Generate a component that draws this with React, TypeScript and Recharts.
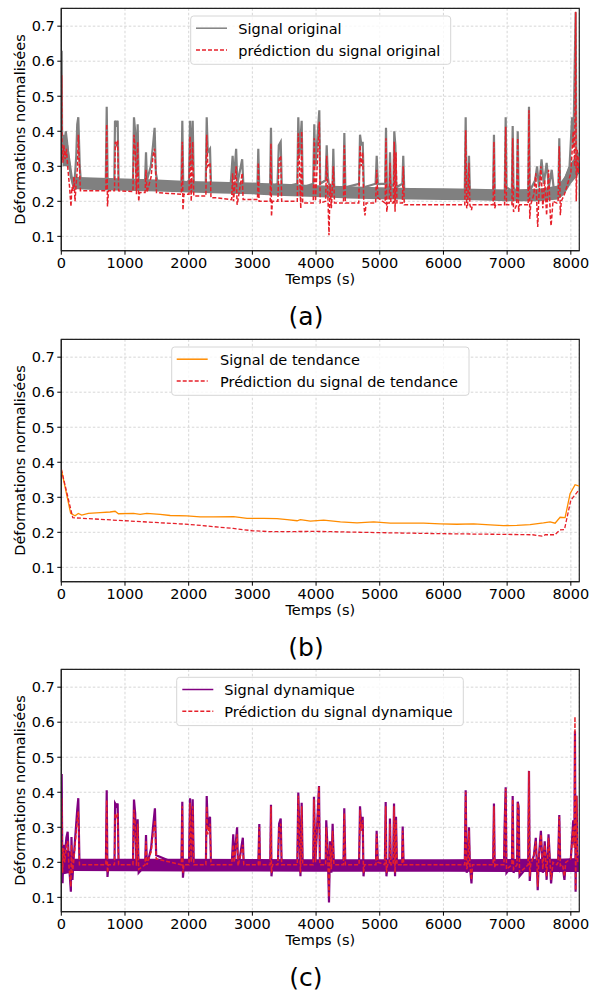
import React from 'react';
import { ComposedChart, Line, Area, XAxis, YAxis, CartesianGrid, ReferenceArea } from 'recharts';

type P = [number, number];
type B = [number, number, number];

const X_TICKS = [0, 1000, 2000, 3000, 4000, 5000, 6000, 7000, 8000];
const Y_TICKS = [0.1, 0.2, 0.3, 0.4, 0.5, 0.6, 0.7];
const X_MAX = 8133;
const Y_MIN = 0.059;
const Y_MAX = 0.751;

// ---------- Panel (a) ----------
const bandA: B[] = [[20,0.3,0.38],[110,0.3,0.36],[180,0.235,0.27],[500,0.232,0.268],[1000,0.23,0.265],[1500,0.228,0.262],[2000,0.225,0.258],[2500,0.222,0.256],[3000,0.22,0.253],[3500,0.215,0.25],[4000,0.212,0.246],[4500,0.208,0.243],[5000,0.206,0.24],[5500,0.205,0.238],[6000,0.204,0.237],[6500,0.203,0.236],[7000,0.2,0.234],[7500,0.2,0.236],[7800,0.205,0.245],[7900,0.22,0.27],[8000,0.25,0.31],[8133,0.28,0.34]];

const origA: P[] = [[0,0.35],[6,0.63],[12,0.4],[20,0.33],[35,0.39],[50,0.36],[70,0.4],[90,0.37],[110,0.33],[150,0.27],[180,0.25],[210,0.26],[235,0.33],[250,0.42],[267,0.44],[290,0.3],[310,0.25],[698,0.25],[713,0.47],[728,0.25],[832,0.25],[843,0.43],[865,0.42],[885,0.43],[900,0.25],[1125,0.25],[1141,0.44],[1160,0.4],[1178,0.27],[1199,0.42],[1215,0.26],[1315,0.26],[1330,0.34],[1345,0.26],[1405,0.3],[1440,0.36],[1465,0.41],[1485,0.28],[1515,0.25],[1885,0.25],[1900,0.43],[1915,0.24],[2005,0.26],[2021,0.43],[2040,0.3],[2063,0.43],[2080,0.25],[2268,0.25],[2283,0.44],[2300,0.34],[2335,0.35],[2352,0.24],[2660,0.25],[2690,0.33],[2710,0.26],[2745,0.35],[2765,0.25],[2840,0.32],[2858,0.25],[3080,0.25],[3093,0.35],[3108,0.24],[3278,0.24],[3292,0.41],[3306,0.24],[3395,0.25],[3415,0.36],[3445,0.37],[3462,0.24],[3705,0.25],[3721,0.44],[3740,0.33],[3774,0.43],[3790,0.24],[3955,0.25],[3972,0.42],[3990,0.3],[4051,0.46],[4065,0.25],[4150,0.26],[4167,0.36],[4185,0.27],[4200,0.25],[4258,0.24],[4271,0.35],[4285,0.24],[4430,0.24],[4444,0.395],[4460,0.24],[4675,0.25],[4690,0.39],[4712,0.36],[4732,0.37],[4750,0.24],[4935,0.25],[4952,0.33],[4970,0.25],[5085,0.25],[5098,0.41],[5112,0.24],[5150,0.24],[5161,0.34],[5175,0.24],[5215,0.25],[5228,0.4],[5245,0.36],[5260,0.24],[5355,0.25],[5369,0.33],[5385,0.23],[6335,0.23],[6349,0.44],[6362,0.23],[6388,0.23],[6401,0.33],[6415,0.23],[6780,0.23],[6793,0.39],[6806,0.22],[6963,0.23],[6977,0.44],[6991,0.24],[7074,0.23],[7087,0.415],[7100,0.24],[7152,0.22],[7166,0.4],[7180,0.23],[7330,0.22],[7343,0.47],[7356,0.23],[7440,0.26],[7470,0.3],[7500,0.24],[7540,0.32],[7575,0.25],[7620,0.31],[7655,0.24],[7700,0.29],[7735,0.23],[7805,0.23],[7819,0.38],[7833,0.23],[7900,0.26],[7980,0.3],[8020,0.44],[8040,0.36],[8062,0.6],[8076,0.74],[8088,0.3],[8105,0.34],[8120,0.31],[8133,0.33]];

const predA: P[] = [[0,0.38],[6,0.56],[12,0.36],[25,0.31],[40,0.36],[60,0.32],[80,0.35],[100,0.3],[130,0.24],[152,0.185],[165,0.24],[185,0.23],[200,0.27],[215,0.2],[230,0.24],[255,0.3],[267,0.39],[285,0.3],[300,0.23],[700,0.23],[713,0.42],[725,0.185],[740,0.23],[835,0.23],[848,0.37],[870,0.36],[885,0.375],[900,0.23],[1125,0.228],[1141,0.39],[1160,0.35],[1180,0.22],[1199,0.37],[1215,0.2],[1230,0.225],[1315,0.225],[1330,0.29],[1345,0.225],[1410,0.27],[1440,0.33],[1465,0.35],[1480,0.3],[1495,0.225],[1885,0.22],[1900,0.37],[1910,0.175],[1925,0.22],[2005,0.22],[2021,0.385],[2040,0.2],[2063,0.37],[2080,0.215],[2270,0.215],[2283,0.39],[2300,0.3],[2335,0.31],[2350,0.21],[2440,0.21],[2675,0.205],[2690,0.28],[2705,0.2],[2745,0.3],[2760,0.19],[2775,0.205],[2840,0.28],[2855,0.205],[3080,0.205],[3093,0.31],[3105,0.2],[3280,0.2],[3292,0.365],[3300,0.157],[3315,0.2],[3400,0.2],[3420,0.32],[3445,0.33],[3460,0.2],[3705,0.2],[3721,0.394],[3740,0.3],[3760,0.18],[3774,0.4],[3790,0.195],[3955,0.195],[3972,0.38],[3990,0.2],[4051,0.427],[4065,0.195],[4150,0.2],[4167,0.33],[4185,0.22],[4203,0.103],[4220,0.25],[4240,0.18],[4271,0.3],[4290,0.195],[4430,0.195],[4444,0.36],[4460,0.195],[4670,0.195],[4690,0.36],[4710,0.3],[4732,0.34],[4750,0.19],[4768,0.16],[4785,0.195],[4935,0.195],[4952,0.29],[4970,0.21],[5085,0.195],[5098,0.38],[5110,0.17],[5125,0.195],[5150,0.195],[5161,0.31],[5175,0.195],[5215,0.195],[5228,0.37],[5240,0.17],[5255,0.34],[5270,0.195],[5355,0.195],[5369,0.3],[5385,0.19],[6335,0.19],[6349,0.403],[6365,0.18],[6380,0.19],[6401,0.31],[6415,0.19],[6440,0.175],[6455,0.19],[6780,0.19],[6793,0.37],[6805,0.18],[6820,0.19],[6960,0.19],[6977,0.413],[6990,0.19],[7075,0.19],[7087,0.38],[7100,0.17],[7150,0.19],[7166,0.38],[7180,0.17],[7195,0.19],[7330,0.19],[7343,0.46],[7355,0.15],[7370,0.19],[7420,0.22],[7450,0.28],[7470,0.17],[7480,0.127],[7500,0.22],[7530,0.3],[7560,0.18],[7590,0.26],[7620,0.16],[7650,0.29],[7680,0.15],[7690,0.13],[7720,0.2],[7780,0.195],[7800,0.2],[7819,0.357],[7835,0.16],[7850,0.2],[7900,0.22],[7950,0.25],[8000,0.28],[8038,0.4],[8060,0.3],[8076,0.741],[8085,0.2],[8100,0.35],[8115,0.28],[8133,0.33]];

// ---------- Panel (b) ----------
const trendB: P[] = [[0,0.38],[147,0.254],[215,0.247],[267,0.254],[320,0.249],[425,0.254],[608,0.256],[765,0.258],[845,0.26],[897,0.253],[1133,0.254],[1238,0.251],[1342,0.254],[1552,0.251],[1710,0.248],[1972,0.247],[2181,0.244],[2391,0.244],[2706,0.245],[2916,0.24],[3178,0.24],[3387,0.239],[3545,0.236],[3702,0.233],[3754,0.236],[3911,0.232],[4120,0.235],[4382,0.23],[4643,0.227],[4904,0.23],[5166,0.226],[5427,0.226],[5688,0.226],[5950,0.224],[6211,0.223],[6473,0.224],[6734,0.221],[6943,0.219],[7152,0.22],[7361,0.222],[7570,0.227],[7675,0.23],[7753,0.226],[7832,0.243],[7910,0.242],[7988,0.31],[8067,0.336],[8133,0.332]];

const trendPredB: P[] = [[0,0.38],[180,0.2416],[1000,0.233],[2000,0.2227],[2700,0.211],[3000,0.2045],[3300,0.2017],[4000,0.2026],[5000,0.199],[6000,0.196],[7000,0.194],[7400,0.193],[7550,0.189],[7600,0.193],[7750,0.193],[7830,0.207],[7900,0.208],[8000,0.292],[8133,0.322]];

// ---------- Panel (c) ----------
const bandC: B[] = [[20,0.165,0.24],[150,0.17,0.23],[180,0.175,0.21],[2000,0.174,0.21],[4000,0.173,0.209],[6000,0.173,0.209],[7400,0.172,0.21],[7800,0.172,0.21],[8133,0.172,0.212]];

const dynC: P[] = [[0,0.2],[6,0.452],[12,0.3],[20,0.14],[35,0.25],[55,0.22],[80,0.27],[100,0.287],[120,0.2],[150,0.116],[160,0.272],[175,0.15],[190,0.2],[250,0.35],[267,0.383],[285,0.2],[700,0.19],[713,0.406],[725,0.158],[740,0.19],[835,0.19],[845,0.368],[870,0.36],[885,0.368],[900,0.19],[1125,0.19],[1141,0.379],[1160,0.34],[1180,0.19],[1199,0.323],[1215,0.17],[1315,0.19],[1330,0.278],[1345,0.19],[1410,0.24],[1440,0.3],[1470,0.354],[1490,0.22],[1885,0.19],[1900,0.373],[1910,0.156],[1925,0.19],[2005,0.19],[2021,0.383],[2040,0.2],[2063,0.38],[2080,0.19],[2270,0.19],[2283,0.389],[2300,0.3],[2335,0.33],[2350,0.19],[2675,0.19],[2700,0.28],[2715,0.2],[2760,0.3],[2775,0.18],[2850,0.27],[2865,0.19],[3093,0.19],[3109,0.309],[3120,0.19],[3280,0.19],[3292,0.364],[3300,0.16],[3315,0.19],[3400,0.19],[3420,0.31],[3445,0.325],[3460,0.19],[3705,0.19],[3721,0.399],[3740,0.28],[3755,0.16],[3774,0.37],[3790,0.19],[3955,0.19],[3967,0.387],[3990,0.2],[4046,0.418],[4060,0.19],[4150,0.19],[4160,0.32],[4185,0.22],[4203,0.085],[4220,0.26],[4240,0.17],[4260,0.31],[4280,0.19],[4430,0.19],[4443,0.354],[4460,0.19],[4675,0.19],[4690,0.36],[4710,0.3],[4732,0.33],[4745,0.16],[4760,0.19],[4940,0.19],[4951,0.29],[4970,0.2],[5080,0.19],[5093,0.372],[5105,0.16],[5120,0.19],[5150,0.19],[5160,0.325],[5175,0.19],[5210,0.19],[5224,0.368],[5240,0.16],[5255,0.33],[5270,0.19],[5350,0.19],[5360,0.302],[5375,0.19],[6335,0.19],[6349,0.406],[6365,0.17],[6385,0.19],[6401,0.3],[6415,0.19],[6440,0.14],[6455,0.19],[6780,0.19],[6793,0.368],[6805,0.18],[6820,0.19],[6950,0.19],[6960,0.3],[6977,0.414],[6990,0.17],[7075,0.19],[7087,0.389],[7100,0.17],[7155,0.19],[7166,0.373],[7180,0.36],[7195,0.16],[7330,0.19],[7343,0.461],[7355,0.147],[7370,0.19],[7420,0.22],[7450,0.27],[7470,0.18],[7480,0.12],[7500,0.22],[7530,0.29],[7560,0.17],[7590,0.26],[7620,0.15],[7650,0.28],[7690,0.14],[7720,0.2],[7780,0.19],[7800,0.2],[7819,0.335],[7835,0.18],[7870,0.19],[7900,0.15],[7920,0.2],[8000,0.21],[8038,0.32],[8055,0.25],[8065,0.574],[8075,0.116],[8090,0.39],[8105,0.2],[8133,0.22]];

const dynPredC: P[] = [[0,0.2],[6,0.383],[12,0.25],[20,0.17],[35,0.24],[55,0.2],[80,0.25],[100,0.26],[120,0.19],[150,0.13],[160,0.25],[175,0.17],[190,0.193],[250,0.32],[267,0.345],[285,0.193],[700,0.193],[713,0.378],[725,0.17],[740,0.193],[835,0.193],[845,0.34],[870,0.33],[885,0.34],[900,0.193],[1125,0.193],[1141,0.35],[1160,0.31],[1180,0.19],[1199,0.31],[1215,0.18],[1315,0.193],[1330,0.26],[1345,0.193],[1410,0.23],[1440,0.28],[1470,0.32],[1490,0.21],[1885,0.193],[1900,0.36],[1910,0.17],[1925,0.193],[2005,0.193],[2021,0.37],[2040,0.2],[2063,0.36],[2080,0.193],[2270,0.193],[2283,0.36],[2300,0.28],[2335,0.31],[2350,0.193],[2675,0.193],[2700,0.25],[2715,0.2],[2760,0.28],[2775,0.19],[2850,0.25],[2865,0.193],[3093,0.193],[3109,0.3],[3120,0.193],[3280,0.193],[3292,0.36],[3300,0.17],[3315,0.193],[3400,0.193],[3420,0.3],[3445,0.31],[3460,0.193],[3705,0.193],[3721,0.39],[3740,0.27],[3755,0.17],[3774,0.36],[3790,0.193],[3955,0.193],[3967,0.38],[3990,0.2],[4046,0.418],[4060,0.193],[4150,0.193],[4160,0.3],[4185,0.21],[4203,0.1],[4220,0.25],[4240,0.18],[4260,0.29],[4280,0.193],[4430,0.193],[4443,0.34],[4460,0.193],[4675,0.193],[4690,0.35],[4710,0.29],[4732,0.32],[4745,0.17],[4760,0.193],[4940,0.193],[4951,0.28],[4970,0.2],[5080,0.193],[5093,0.36],[5105,0.17],[5120,0.193],[5150,0.193],[5160,0.31],[5175,0.193],[5210,0.193],[5224,0.36],[5240,0.17],[5255,0.32],[5270,0.193],[5350,0.193],[5360,0.29],[5375,0.193],[6335,0.193],[6349,0.4],[6365,0.18],[6385,0.193],[6401,0.29],[6415,0.193],[6440,0.15],[6455,0.193],[6780,0.193],[6793,0.36],[6805,0.185],[6820,0.193],[6950,0.193],[6960,0.29],[6977,0.41],[6990,0.18],[7075,0.193],[7087,0.38],[7100,0.18],[7155,0.193],[7166,0.37],[7180,0.35],[7195,0.17],[7330,0.193],[7343,0.46],[7355,0.16],[7370,0.193],[7420,0.22],[7450,0.26],[7470,0.19],[7480,0.13],[7500,0.22],[7530,0.28],[7560,0.18],[7590,0.25],[7620,0.16],[7650,0.27],[7690,0.15],[7720,0.2],[7780,0.193],[7800,0.2],[7819,0.33],[7835,0.19],[7870,0.193],[7900,0.16],[7920,0.2],[8000,0.21],[8038,0.3],[8055,0.24],[8065,0.616],[8075,0.12],[8090,0.39],[8105,0.2],[8133,0.2]];

const LEGEND_A = ['Signal original', 'prédiction du signal original'];
const LEGEND_B = ['Signal de tendance', 'Prédiction du signal de tendance'];
const LEGEND_C = ['Signal dynamique', 'Prédiction du signal dynamique'];

const FONT = 'DejaVu Sans';
const RED = '#e6202a';

type Row = { t: number; [k: string]: any };

function merge(lines: Record<string, P[]>, bands: Record<string, B[]>): Row[] {
  const map = new Map<number, Row>();
  const get = (t: number) => {
    let r = map.get(t);
    if (!r) { r = { t }; map.set(t, r); }
    return r;
  };
  Object.entries(lines).forEach(([k, arr]) => arr.forEach(([t, v]) => { get(t)[k] = v; }));
  Object.entries(bands).forEach(([k, arr]) => arr.forEach(([t, lo, hi]) => { get(t)[k] = [lo, hi]; }));
  return Array.from(map.values()).sort((a, b) => a.t - b.t);
}

const XTick = (props: any) => {
  const { x, y, payload } = props;
  return (
    <text x={x} y={y + 13.4} textAnchor="middle" fontSize={14.5} fontFamily={FONT} fill="#000">
      {payload.value}
    </text>
  );
};

const YTick = (props: any) => {
  const { x, y, payload } = props;
  return (
    <text x={x - 2.5} y={y + 5.3} textAnchor="end" fontSize={14.5} fontFamily={FONT} fill="#000">
      {Number(payload.value).toFixed(1)}
    </text>
  );
};

type LegendItem = { label: string; color: string; dashed: boolean };
type LegendCfg = { left: number; top: number; width: number; sampleX: number; textX: number; items: LegendItem[] };

function Legend2({ cfg }: { cfg: LegendCfg }) {
  const h = 48.3;
  const rows = [12.2, 34];
  return (
    <svg width={592} height={330} style={{ position: 'absolute', left: 0, top: 0, pointerEvents: 'none' }}>
      <rect x={cfg.left} y={cfg.top} width={cfg.width} height={h} rx={3} ry={3}
        fill="#ffffff" fillOpacity={0.8} stroke="#d6d6d6" strokeWidth={1} />
      {cfg.items.map((it, i) => (
        <g key={i}>
          <line x1={cfg.left + cfg.sampleX} x2={cfg.left + cfg.sampleX + 31} y1={cfg.top + rows[i]} y2={cfg.top + rows[i]}
            stroke={it.color} strokeWidth={1.5} strokeDasharray={it.dashed ? '4 2' : undefined} />
          <text x={cfg.left + cfg.textX} y={cfg.top + rows[i] + 5.5} fontSize={14.5} fontFamily={FONT} fill="#000">
            {it.label}
          </text>
        </g>
      ))}
    </svg>
  );
}

type PanelProps = {
  top: number;
  rows: Row[];
  children: React.ReactNode;
  legend: LegendCfg;
  tag: string;
};

function Panel({ top, rows, children, legend, tag }: PanelProps) {
  return (
    <div style={{ position: 'absolute', left: 0, top, width: 592, height: 330 }}>
      <ComposedChart width={592} height={330} data={rows} margin={{ top: 8.3, right: 12.7, bottom: 0, left: 0 }}>
        <CartesianGrid stroke="#d3d3d3" strokeDasharray="2.5 2" strokeWidth={0.9} />
        <XAxis
          type="number"
          dataKey="t"
          domain={[0, X_MAX]}
          ticks={X_TICKS}
          interval={0}
          allowDataOverflow
          height={79.3}
          tickSize={4}
          tickMargin={0}
          tick={XTick}
          tickLine={{ stroke: '#000' }}
          axisLine={{ stroke: '#222', strokeWidth: 1.2 }}
          label={{
            content: (p: any) => {
              const vb = p.viewBox || { x: 61.3, y: 250.7, width: 518 };
              return (
                <g>
                  <text x={vb.x + vb.width / 2} y={vb.y + 33} textAnchor="middle" fontSize={14.5} fontFamily={FONT} fill="#000">
                    Temps (s)
                  </text>
                  <text x={306} y={vb.y + 74} textAnchor="middle" fontSize={25} fontFamily={FONT} fill="#000">
                    {tag}
                  </text>
                </g>
              );
            },
          }}
        />
        <YAxis
          type="number"
          domain={[Y_MIN, Y_MAX]}
          ticks={Y_TICKS}
          interval={0}
          allowDataOverflow
          width={61.3}
          tickSize={4}
          tickMargin={0}
          tick={YTick}
          tickLine={{ stroke: '#000' }}
          axisLine={{ stroke: '#222', strokeWidth: 1.2 }}
          label={{
            content: (p: any) => {
              const vb = p.viewBox || { x: 0, y: 8.3, width: 61.3, height: 242.4 };
              const cy = vb.y + vb.height / 2;
              return (
                <text transform={`translate(25,${cy}) rotate(-90)`} textAnchor="middle" fontSize={14.5} fontFamily={FONT} fill="#000">
                  Déformations normalisées
                </text>
              );
            },
          }}
        />
        {children}
        <ReferenceArea x1={0} x2={X_MAX} y1={Y_MIN} y2={Y_MAX} fill="none" fillOpacity={0} stroke="#222" strokeWidth={1.2} ifOverflow="visible" />
      </ComposedChart>
      <Legend2 cfg={legend} />
    </div>
  );
}

const rowsA = merge({ origA, predA }, { bandA });
const rowsB = merge({ trendB, trendPredB }, {});
const rowsC = merge({ dynC, dynPredC }, { bandC });

export default function App() {
  return (
    <div style={{ position: 'absolute', left: 0, top: 0, width: 592, height: 994, background: '#fff' }}>
      <Panel
        top={0}
        rows={rowsA}
        tag="(a)"
        legend={{ left: 190.7, top: 16, width: 260, sampleX: 5.3, textX: 47.6, items: [
          { label: LEGEND_A[0], color: '#808080', dashed: false },
          { label: LEGEND_A[1], color: RED, dashed: true },
        ] }}
      >
        <Area dataKey="bandA" type="linear" stroke="none" fill="#808080" fillOpacity={1} connectNulls isAnimationActive={false} dot={false} activeDot={false} />
        <Line dataKey="origA" type="linear" stroke="#808080" strokeWidth={2.2} dot={false} connectNulls isAnimationActive={false} activeDot={false} />
        <Line dataKey="predA" type="linear" stroke={RED} strokeWidth={1.5} strokeDasharray="4 2" dot={false} connectNulls isAnimationActive={false} activeDot={false} />
      </Panel>
      <Panel
        top={330.7}
        rows={rowsB}
        tag="(b)"
        legend={{ left: 171.7, top: 16, width: 297.3, sampleX: 5, textX: 48.3, items: [
          { label: LEGEND_B[0], color: '#ff8c00', dashed: false },
          { label: LEGEND_B[1], color: RED, dashed: true },
        ] }}
      >
        <Line dataKey="trendB" type="linear" stroke="#ff8c00" strokeWidth={1.3} dot={false} connectNulls isAnimationActive={false} activeDot={false} />
        <Line dataKey="trendPredB" type="linear" stroke={RED} strokeWidth={1.3} strokeDasharray="4 2" dot={false} connectNulls isAnimationActive={false} activeDot={false} />
      </Panel>
      <Panel
        top={661}
        rows={rowsC}
        tag="(c)"
        legend={{ left: 176.7, top: 16.3, width: 286.6, sampleX: 5.6, textX: 47.6, items: [
          { label: LEGEND_C[0], color: '#800080', dashed: false },
          { label: LEGEND_C[1], color: RED, dashed: true },
        ] }}
      >
        <Area dataKey="bandC" type="linear" stroke="none" fill="#800080" fillOpacity={1} connectNulls isAnimationActive={false} dot={false} activeDot={false} />
        <Line dataKey="dynC" type="linear" stroke="#800080" strokeWidth={2.2} dot={false} connectNulls isAnimationActive={false} activeDot={false} />
        <Line dataKey="dynPredC" type="linear" stroke={RED} strokeWidth={1.5} strokeDasharray="4 2" dot={false} connectNulls isAnimationActive={false} activeDot={false} />
      </Panel>
    </div>
  );
}
